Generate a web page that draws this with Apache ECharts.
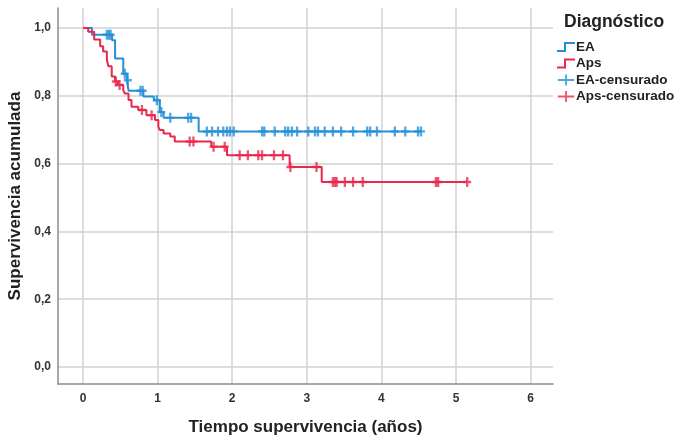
<!DOCTYPE html>
<html>
<head>
<meta charset="utf-8">
<script src="https://cdn.jsdelivr.net/npm/echarts@6/dist/echarts.min.js"></script>
<style>
html,body{margin:0;padding:0;background:#fff;}
#chart{width:676px;height:436px;}
</style>
</head>
<body>
<div id="chart"></div>
<script>
// ---- Data ----
const xTicks = [0, 1, 2, 3, 4, 5, 6];
const yTicks = [0, 0.2, 0.4, 0.6, 0.8, 1.0];

// EA: event times and survival after each event
const eaTimes = [0, 0.12, 0.39, 0.43, 0.54, 0.59, 0.61, 0.81, 0.95, 1.03, 1.08, 1.55];
const eaSurv  = [1.0, 0.980, 0.964, 0.910, 0.865, 0.846, 0.815, 0.798, 0.787, 0.752, 0.735, 0.695];
const eaEnd = 4.53;
const eaCens = [0.32, 0.35, 0.37, 0.56, 0.60, 0.77, 0.80, 0.99, 1.05, 1.17, 1.41, 1.45,
  1.66, 1.73, 1.81, 1.88, 1.93, 1.97, 2.02, 2.40, 2.43, 2.57, 2.71, 2.75, 2.80, 2.87,
  3.02, 3.11, 3.15, 3.24, 3.35, 3.46, 3.62, 3.81, 3.85, 3.94, 4.18, 4.32, 4.49, 4.53];

// Aps
const apsTimes = [0, 0.07, 0.15, 0.23, 0.27, 0.32, 0.34, 0.385, 0.43, 0.47, 0.54, 0.56, 0.61, 0.65,
  0.74, 0.85, 0.965, 1.01, 1.03, 1.08, 1.17, 1.23, 1.72, 1.93, 2.77, 3.20];
const apsSurv  = [1.0, 0.989, 0.966, 0.946, 0.931, 0.906, 0.887, 0.857, 0.842, 0.832, 0.817, 0.807, 0.788, 0.768,
  0.758, 0.743, 0.729, 0.709, 0.699, 0.689, 0.680, 0.665, 0.650, 0.625, 0.590, 0.546];
const apsEnd = 5.15;
const apsCens = [0.44, 0.49, 0.79, 0.92, 1.43, 1.48, 1.75, 1.90, 2.10, 2.21, 2.35, 2.40, 2.56, 2.68,
  2.78, 3.13, 3.35, 3.38, 3.40, 3.51, 3.62, 3.75, 4.73, 4.76, 5.15];

// ---- Build series data ----
function stepLine(times, surv, end) {
  const d = times.map((t, i) => [t, surv[i]]);
  d.push([end, surv[surv.length - 1]]);
  return d;
}
function survAt(times, surv, t) {
  let s = surv[0];
  for (let i = 0; i < times.length; i++) { if (times[i] <= t) s = surv[i]; }
  return s;
}
function censData(times, surv, cens) {
  return cens.map(t => [t, survAt(times, surv, t)]);
}

const BLUE = '#2490d8';
const RED = '#e8284c';
const plusPath = 'path://M8,0 L10,0 L10,5 L18,5 L18,7 L10,7 L10,12 L8,12 L8,7 L0,7 L0,5 L8,5 Z';
const markPath = 'path://M3,0 L5.4,0 L5.4,3.8 L8.4,3.8 L8.4,6.2 L5.4,6.2 L5.4,10 L3,10 L3,6.2 L0,6.2 L0,3.8 L3,3.8 Z';
const stepPath = 'path://M0,8 L7,8 L7,0 L18,0 L18,2 L9,2 L9,10 L0,10 Z';
const FONT = 'Liberation Sans';

const chart = echarts.init(document.getElementById('chart'), null, {renderer: 'canvas'});
chart.setOption({
  backgroundColor: '#fff',
  animation: false,
  title: {
    text: 'Diagnóstico',
    left: 564, top: 13, padding: 0,
    textStyle: {fontFamily: FONT, fontSize: 17.5, fontWeight: 'bold', color: '#222'}
  },
  legend: {
    orient: 'vertical',
    left: 557, top: 40, padding: 0,
    itemWidth: 18, itemHeight: 11, itemGap: 2.5,
    textStyle: {fontFamily: FONT, fontSize: 13.5, fontWeight: 'bold', color: '#222', padding: [0, 0, 0, -4]},
    data: [
      {name: 'EA', icon: stepPath},
      {name: 'Aps', icon: stepPath},
      {name: 'EA-censurado', icon: plusPath},
      {name: 'Aps-censurado', icon: plusPath}
    ]
  },
  grid: {left: 58, right: 123, top: 8, bottom: 52, outerBoundsMode: 'none', containLabel: false},
  xAxis: {
    type: 'value', min: -0.335, max: 6.3,
    name: 'Tiempo supervivencia (años)', nameLocation: 'middle', nameGap: 35,
    nameTextStyle: {fontFamily: FONT, fontSize: 17, fontWeight: 'bold', color: '#222'},
    axisLine: {show: true, onZero: false, lineStyle: {color: '#8c8c8c', width: 1.5}},
    axisTick: {show: false, customValues: xTicks},
    axisLabel: {customValues: xTicks, margin: 9, fontFamily: FONT, fontSize: 12, fontWeight: 'bold', color: '#333'},
    splitLine: {show: true, lineStyle: {color: '#d2d2d2', width: 1.5}}
  },
  yAxis: {
    type: 'value', min: -0.05, max: 1.059,
    name: 'Supervivencia acumulada', nameLocation: 'middle', nameGap: 29,
    nameTextStyle: {fontFamily: FONT, fontSize: 17, fontWeight: 'bold', color: '#222'},
    axisLine: {show: true, onZero: false, lineStyle: {color: '#8c8c8c', width: 1.5}},
    axisTick: {show: false, customValues: yTicks},
    axisLabel: {customValues: yTicks, margin: 7, fontFamily: FONT, fontSize: 12, fontWeight: 'bold', color: '#333',
      formatter: v => v.toFixed(1).replace('.', ',')},
    splitLine: {show: true, lineStyle: {color: '#d2d2d2', width: 1.5}}
  },
  series: [
    {name: 'EA', type: 'line', step: 'end', data: stepLine(eaTimes, eaSurv, eaEnd),
      showSymbol: false, symbol: 'none', color: BLUE, lineStyle: {color: BLUE, width: 2}, z: 3},
    {name: 'Aps', type: 'line', step: 'end', data: stepLine(apsTimes, apsSurv, apsEnd),
      showSymbol: false, symbol: 'none', color: RED, lineStyle: {color: RED, width: 2}, z: 4},
    {name: 'EA-censurado', type: 'scatter', data: censData(eaTimes, eaSurv, eaCens),
      symbol: markPath, symbolSize: [8, 10], color: BLUE, itemStyle: {color: BLUE}, z: 5},
    {name: 'Aps-censurado', type: 'scatter', data: censData(apsTimes, apsSurv, apsCens),
      symbol: markPath, symbolSize: [8, 10], color: RED, itemStyle: {color: RED}, z: 6}
  ]
});
</script>
</body>
</html>
